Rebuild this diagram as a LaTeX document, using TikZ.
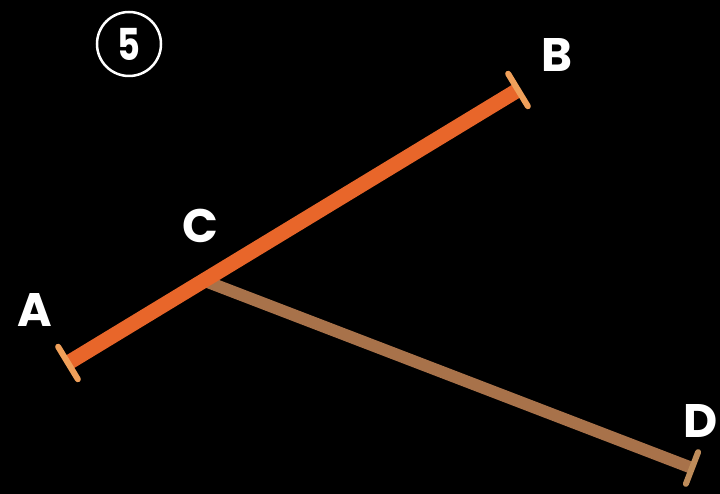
\documentclass[tikz,border=0pt]{standalone}
\usepackage{fontspec}
\setmainfont{Poppins}
\usetikzlibrary{calc}
\definecolor{barorange}{RGB}{232,102,42}
\definecolor{capomange}{RGB}{240,160,90}
\definecolor{barbrown}{RGB}{168,114,74}
\definecolor{capbrown}{RGB}{190,140,90}
\tikzset{
  lbl/.style={text=white,font=\fontsize{47}{47}\selectfont\bfseries,inner sep=0pt},
  orangebar/.style={draw=barorange,line width=15pt},
  brownbar/.style={draw=barbrown,line width=12pt},
  endcap/.style={line width=6pt,line cap=round}
}
\begin{document}
\begin{tikzpicture}[x=1pt,y=-1pt]
\fill[black] (0,0) rectangle (720,494);
\useasboundingbox (0,0) rectangle (720,494);
\coordinate (A) at (68,363);
\coordinate (B) at (518,90);
\coordinate (C) at (205,281);
\coordinate (D) at (692,468);
% brown segment
\draw[brownbar] (C) -- (D);
\draw[endcap,draw=capbrown] ($(D)!17pt!90:(C)$) -- ($(D)!17pt!-90:(C)$);
% orange segment
\draw[orangebar] (A) -- (B);
\draw[endcap,draw=capomange] ($(A)!19pt!90:(B)$) -- ($(A)!19pt!-90:(B)$);
\draw[endcap,draw=capomange] ($(B)!19pt!90:(A)$) -- ($(B)!19pt!-90:(A)$);
% labels
\node[lbl] (la) at (35,310) {A};
\node[lbl] (lb) at (557,55) {B};
\node[lbl] (lc) at (200,226) {C};
\node[lbl] (ld) at (701,421) {D};
\node[draw=white,line width=2.5pt,circle,minimum size=64pt,inner sep=0pt,text=white,font=\fontsize{44}{44}\selectfont\bfseries] (five) at (129,44) {\scalebox{0.8}[1]{5}};
\end{tikzpicture}
\end{document}
